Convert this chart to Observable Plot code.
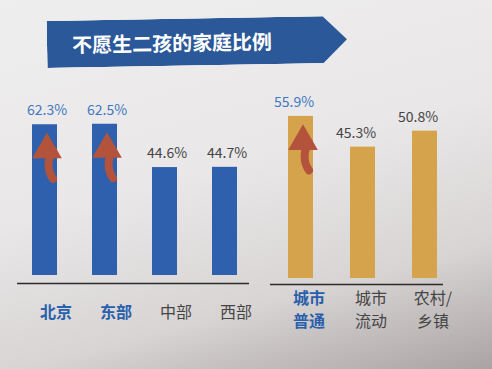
<!DOCTYPE html>
<html>
<head>
<meta charset="utf-8">
<script src="https://cdn.jsdelivr.net/npm/d3@7"></script>
<script src="https://cdn.jsdelivr.net/npm/@observablehq/plot@0.6"></script>
<style>
  html, body { margin: 0; padding: 0; }
  #page {
    position: relative; width: 492px; height: 369px; overflow: hidden;
    background: linear-gradient(165deg, #efeeee 0%, #e9e7e8 45%, #d8d4d4 75%, #aaa3a3 100%);
    font-family: "Noto Sans CJK SC", "Noto Sans", sans-serif;
  }
  #banner {
    position: absolute; left: 47px; top: 21px; width: 300px; height: 47px;
    background: #2b5898; color: #fff;
    clip-path: polygon(0 0, 276px 0, 300px 50%, 276px 100%, 0 100%);
    transform: rotate(-1deg); transform-origin: left center;
    font-size: 20px; font-weight: bold; line-height: 47px; padding-left: 25px; box-sizing: border-box;
  }
  #left, #right { position: absolute; top: 0; }
  #left { left: 0; }
  #right { left: 250px; }
</style>
</head>
<body>
<div id="page">
  <div id="banner"></div>
  <div id="left"></div>
  <div id="right"></div>
</div>
<script>
const title = "不愿生二孩的家庭比例";
const regionCats = ["北京", "东部", "中部", "西部"];
const regionValues = [62.3, 62.5, 44.6, 44.7];
const regionHighlight = ["北京", "东部"];
const regionLabels = [["北京"], ["东部"], ["中部"], ["西部"]];
const urbanCats = ["城市普通", "城市流动", "农村/乡镇"];
const urbanLabels = [["城市", "普通"], ["城市", "流动"], ["农村/", "乡镇"]];
const urbanValues = [55.9, 45.3, 50.8];
const urbanHighlight = ["城市普通"];

const BLUE = "#2e60ae", GOLD = "#d5a34c", RED = "#b3533c";
const HL_VALUE = "#3f78c0", HL_LABEL = "#2a5fab", GRAY = "#454545";

document.getElementById("banner").textContent = title;

function panel({cats, values, highlight, labels, width, marginLeft, marginRight, xRange, pad, yRange, ruleDy, marginBottom, fill, labelPad, labelDx, valueDx, pxPer}) {
  const data = cats.map((c, i) => ({cat: c, value: values[i], hl: highlight.includes(c)}));
  const hlData = data.filter(d => d.hl);
  const others = cats.filter(c => !highlight.includes(c));
  const nLines = d3.max(labels, l => l.length);
  const axes = [];
  for (let k = 0; k < nLines; k++) {
    const lineOf = c => labels[cats.indexOf(c)][k] ?? "";
    const common = {tickSize: 0, tickPadding: labelPad + k * 23, fontSize: 16, dx: labelDx, tickFormat: lineOf, label: null};
    axes.push(Plot.axisX(highlight, {...common, fontWeight: "bold", color: HL_LABEL, fill: HL_LABEL}));
    axes.push(Plot.axisX(others, {...common, color: GRAY, fill: GRAY}));
  }
  return Plot.plot({
    width, height: 369, marginLeft, marginRight, marginTop: 0, marginBottom,
    style: {background: "transparent", fontFamily: "'Noto Sans CJK SC', sans-serif", overflow: "visible"},
    x: {domain: cats, range: xRange, paddingInner: pad, paddingOuter: pad / 2, axis: null, label: null},
    y: {domain: [0, 100], range: yRange, axis: null},
    marks: [
      Plot.barY(data, {x: "cat", y: "value", fill}),
      Plot.ruleY([0], {dy: ruleDy, stroke: "#2b2b2b", strokeWidth: 1.5}),
      Plot.text(data, {x: "cat", y: "value", text: d => d.value.toFixed(1) + "%", dy: -14, dx: valueDx,
        fill: d => d.hl ? HL_VALUE : GRAY, fontSize: 14}),
      ...axes,
      Plot.arrow(hlData, {x: "cat", y1: d => d.value - 54 / pxPer, y2: d => d.value - 26 / pxPer,
        bend: 35, dx: 8, stroke: RED, strokeWidth: 8, headLength: 0}),
      Plot.dot(hlData, {x: "cat", y: "value", symbol: "triangle", r: 11, fill: RED, stroke: "none", dy: 25, dx: 2})
    ]
  });
}

document.getElementById("left").append(panel({
  cats: regionCats, values: regionValues, highlight: regionHighlight, labels: regionLabels,
  width: 252, marginLeft: 17, marginRight: 3, xRange: [13.4, 254.6], pad: 0.585,
  yRange: [275, 33], ruleDy: 8, marginBottom: 86, fill: BLUE, labelPad: 23, labelDx: 11, valueDx: 2, pxPer: 2.42
}));

document.getElementById("right").append(panel({
  cats: urbanCats, values: urbanValues, highlight: urbanHighlight, labels: urbanLabels,
  width: 242, marginLeft: 20, marginRight: 49, xRange: [18.1, 206.4], pad: 0.594,
  yRange: [278, -12], ruleDy: 6, marginBottom: 85, fill: GOLD, labelPad: 8, labelDx: 8, valueDx: -7, pxPer: 2.9
}));
</script>
</body>
</html>
